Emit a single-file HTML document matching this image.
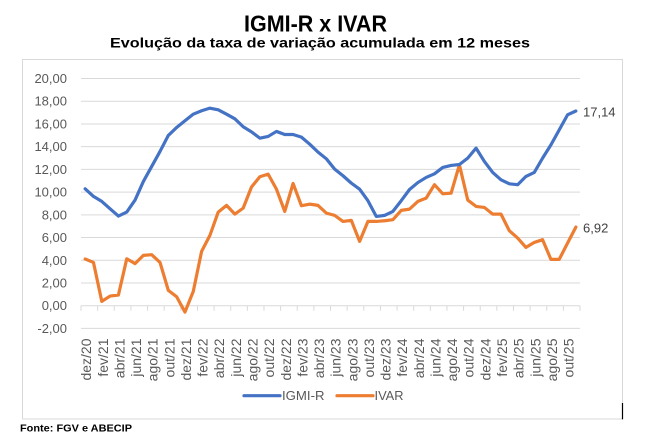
<!DOCTYPE html>
<html>
<head>
<meta charset="utf-8">
<style>
  html,body{margin:0;padding:0;background:#fff;}
  svg{display:block;}
  text{font-family:"Liberation Sans",Arial,sans-serif;}
</style>
</head>
<body>
<svg width="647" height="447" viewBox="0 0 647 447" xmlns="http://www.w3.org/2000/svg">
  <rect x="0" y="0" width="647" height="447" fill="#ffffff"/>

  <!-- Titles -->
  <text x="244" y="31.7" font-size="23" font-weight="bold" fill="#000" textLength="143" lengthAdjust="spacingAndGlyphs">IGMI-R x IVAR</text>
  <text x="110" y="47.7" font-size="14" font-weight="bold" fill="#000" textLength="420" lengthAdjust="spacingAndGlyphs">Evolução da taxa de variação acumulada em 12 meses</text>

  <!-- Chart frame -->
  <rect x="22.5" y="59.5" width="600" height="359.5" fill="none" stroke="#D9D9D9" stroke-width="1"/>
  <line x1="622.5" y1="403" x2="622.5" y2="419.3" stroke="#000" stroke-width="1.2"/>

  <!-- Gridlines -->
  <g stroke="#D9D9D9" stroke-width="1">
    <line x1="81" x2="580" y1="78.5" y2="78.5"/>
    <line x1="81" x2="580" y1="101.22" y2="101.22"/>
    <line x1="81" x2="580" y1="123.94" y2="123.94"/>
    <line x1="81" x2="580" y1="146.66" y2="146.66"/>
    <line x1="81" x2="580" y1="169.38" y2="169.38"/>
    <line x1="81" x2="580" y1="192.1" y2="192.1"/>
    <line x1="81" x2="580" y1="214.82" y2="214.82"/>
    <line x1="81" x2="580" y1="237.54" y2="237.54"/>
    <line x1="81" x2="580" y1="260.26" y2="260.26"/>
    <line x1="81" x2="580" y1="282.98" y2="282.98"/>
    <line x1="81" x2="580" y1="305.7" y2="305.7"/>
    <line x1="81" x2="580" y1="328.42" y2="328.42"/>
  </g>

  <!-- Tick marks -->
  <g stroke="#D9D9D9" stroke-width="1">
    <line x1="81" x2="81" y1="305.7" y2="310.7"/>
    <line x1="97.63" x2="97.63" y1="305.7" y2="310.7"/>
    <line x1="114.27" x2="114.27" y1="305.7" y2="310.7"/>
    <line x1="130.9" x2="130.9" y1="305.7" y2="310.7"/>
    <line x1="147.54" x2="147.54" y1="305.7" y2="310.7"/>
    <line x1="164.17" x2="164.17" y1="305.7" y2="310.7"/>
    <line x1="180.8" x2="180.8" y1="305.7" y2="310.7"/>
    <line x1="197.44" x2="197.44" y1="305.7" y2="310.7"/>
    <line x1="214.07" x2="214.07" y1="305.7" y2="310.7"/>
    <line x1="230.71" x2="230.71" y1="305.7" y2="310.7"/>
    <line x1="247.34" x2="247.34" y1="305.7" y2="310.7"/>
    <line x1="263.97" x2="263.97" y1="305.7" y2="310.7"/>
    <line x1="280.61" x2="280.61" y1="305.7" y2="310.7"/>
    <line x1="297.24" x2="297.24" y1="305.7" y2="310.7"/>
    <line x1="313.88" x2="313.88" y1="305.7" y2="310.7"/>
    <line x1="330.51" x2="330.51" y1="305.7" y2="310.7"/>
    <line x1="347.14" x2="347.14" y1="305.7" y2="310.7"/>
    <line x1="363.78" x2="363.78" y1="305.7" y2="310.7"/>
    <line x1="380.41" x2="380.41" y1="305.7" y2="310.7"/>
    <line x1="397.05" x2="397.05" y1="305.7" y2="310.7"/>
    <line x1="413.68" x2="413.68" y1="305.7" y2="310.7"/>
    <line x1="430.31" x2="430.31" y1="305.7" y2="310.7"/>
    <line x1="446.95" x2="446.95" y1="305.7" y2="310.7"/>
    <line x1="463.58" x2="463.58" y1="305.7" y2="310.7"/>
    <line x1="480.22" x2="480.22" y1="305.7" y2="310.7"/>
    <line x1="496.85" x2="496.85" y1="305.7" y2="310.7"/>
    <line x1="513.48" x2="513.48" y1="305.7" y2="310.7"/>
    <line x1="530.12" x2="530.12" y1="305.7" y2="310.7"/>
    <line x1="546.75" x2="546.75" y1="305.7" y2="310.7"/>
    <line x1="563.39" x2="563.39" y1="305.7" y2="310.7"/>
    <line x1="580" x2="580" y1="305.7" y2="310.7"/>
  </g>

  <!-- Y axis labels -->
  <g font-size="13" fill="#595959" text-anchor="end">
    <text x="67" y="83">20,00</text>
    <text x="67" y="105.7">18,00</text>
    <text x="67" y="128.4">16,00</text>
    <text x="67" y="151.2">14,00</text>
    <text x="67" y="173.9">12,00</text>
    <text x="67" y="196.6">10,00</text>
    <text x="67" y="219.3">8,00</text>
    <text x="67" y="242">6,00</text>
    <text x="67" y="264.8">4,00</text>
    <text x="67" y="287.5">2,00</text>
    <text x="67" y="310.2">0,00</text>
    <text x="67" y="332.9">-2,00</text>
  </g>

  <!-- X axis labels (rotated) -->
  <g font-size="14" fill="#595959" text-anchor="end">
    <text transform="translate(91.2,338.5) rotate(-90)">dez/20</text>
    <text transform="translate(107.8,338.5) rotate(-90)">fev/21</text>
    <text transform="translate(124.4,338.5) rotate(-90)">abr/21</text>
    <text transform="translate(141.1,338.5) rotate(-90)">jun/21</text>
    <text transform="translate(157.7,338.5) rotate(-90)">ago/21</text>
    <text transform="translate(174.3,338.5) rotate(-90)">out/21</text>
    <text transform="translate(191,338.5) rotate(-90)">dez/21</text>
    <text transform="translate(207.6,338.5) rotate(-90)">fev/22</text>
    <text transform="translate(224.2,338.5) rotate(-90)">abr/22</text>
    <text transform="translate(240.9,338.5) rotate(-90)">jun/22</text>
    <text transform="translate(257.5,338.5) rotate(-90)">ago/22</text>
    <text transform="translate(274.1,338.5) rotate(-90)">out/22</text>
    <text transform="translate(290.8,338.5) rotate(-90)">dez/22</text>
    <text transform="translate(307.4,338.5) rotate(-90)">fev/23</text>
    <text transform="translate(324,338.5) rotate(-90)">abr/23</text>
    <text transform="translate(340.7,338.5) rotate(-90)">jun/23</text>
    <text transform="translate(357.3,338.5) rotate(-90)">ago/23</text>
    <text transform="translate(373.9,338.5) rotate(-90)">out/23</text>
    <text transform="translate(390.6,338.5) rotate(-90)">dez/23</text>
    <text transform="translate(407.2,338.5) rotate(-90)">fev/24</text>
    <text transform="translate(423.8,338.5) rotate(-90)">abr/24</text>
    <text transform="translate(440.5,338.5) rotate(-90)">jun/24</text>
    <text transform="translate(457.1,338.5) rotate(-90)">ago/24</text>
    <text transform="translate(473.7,338.5) rotate(-90)">out/24</text>
    <text transform="translate(490.4,338.5) rotate(-90)">dez/24</text>
    <text transform="translate(507,338.5) rotate(-90)">fev/25</text>
    <text transform="translate(523.6,338.5) rotate(-90)">abr/25</text>
    <text transform="translate(540.3,338.5) rotate(-90)">jun/25</text>
    <text transform="translate(556.9,338.5) rotate(-90)">ago/25</text>
    <text transform="translate(573.5,338.5) rotate(-90)">out/25</text>
  </g>

  <!-- Series -->
  <g transform="translate(85.16,305.7) scale(8.317,-11.36)" fill="none" stroke-linejoin="round" stroke-linecap="round">
    <polyline vector-effect="non-scaling-stroke" stroke="#ED7D31" stroke-width="3.2"
      points="0,4.11 1,3.81 2,0.38 3,0.85 4,0.94 5,4.13 6,3.70 7,4.43 8,4.49 9,3.81 10,1.35 11,0.79 12,-0.56 13,1.26 14,4.78 15,6.19 16,8.24 17,8.83 18,8.06 19,8.59 20,10.45 21,11.35 22,11.58 23,10.26 24,8.30 25,10.76 26,8.80 27,8.94 28,8.83 29,8.15 30,7.95 31,7.42 32,7.51 33,5.66 34,7.42 35,7.42 36,7.48 37,7.57 38,8.39 39,8.50 40,9.18 41,9.47 42,10.65 43,9.85 44,9.91 45,12.40 46,9.30 47,8.74 48,8.65 49,8.06 50,8.06 51,6.60 52,5.95 53,5.13 54,5.57 55,5.81 56,4.08 57,4.08 58,5.51 59,6.92"/>
    <polyline vector-effect="non-scaling-stroke" stroke="#4472C4" stroke-width="3.2"
      points="0,10.29 1,9.62 2,9.18 3,8.53 4,7.89 5,8.24 6,9.30 7,10.94 8,12.26 9,13.58 10,14.99 11,15.69 12,16.28 13,16.86 14,17.16 15,17.39 16,17.24 17,16.86 18,16.45 19,15.75 20,15.30 21,14.75 22,14.90 23,15.34 24,15.07 25,15.07 26,14.84 27,14.22 28,13.52 29,12.93 30,12.02 31,11.44 32,10.79 33,10.26 34,9.24 35,7.86 36,7.95 37,8.30 38,9.24 39,10.23 40,10.84 41,11.29 42,11.61 43,12.17 44,12.35 45,12.43 46,12.99 47,13.87 48,12.70 49,11.73 50,11.08 51,10.73 52,10.65 53,11.38 54,11.73 55,12.99 56,14.16 57,15.48 58,16.80 59,17.14"/>
  </g>

  <!-- Data labels -->
  <text x="583" y="116.3" font-size="13" fill="#404040">17,14</text>
  <text x="583" y="232.6" font-size="13" fill="#404040">6,92</text>

  <!-- Legend -->
  <line x1="244" y1="395.7" x2="280" y2="395.7" stroke="#4472C4" stroke-width="3.2" stroke-linecap="round"/>
  <text x="282" y="400.2" font-size="12.8" fill="#595959" textLength="42.5" lengthAdjust="spacingAndGlyphs">IGMI-R</text>
  <line x1="337" y1="395.7" x2="373" y2="395.7" stroke="#ED7D31" stroke-width="3.2" stroke-linecap="round"/>
  <text x="374.5" y="400.2" font-size="12.8" fill="#595959" textLength="29" lengthAdjust="spacingAndGlyphs">IVAR</text>

  <!-- Source -->
  <text x="20" y="431.7" font-size="10.5" font-weight="bold" fill="#000" textLength="112" lengthAdjust="spacingAndGlyphs">Fonte: FGV e ABECIP</text>
</svg>
</body>
</html>
